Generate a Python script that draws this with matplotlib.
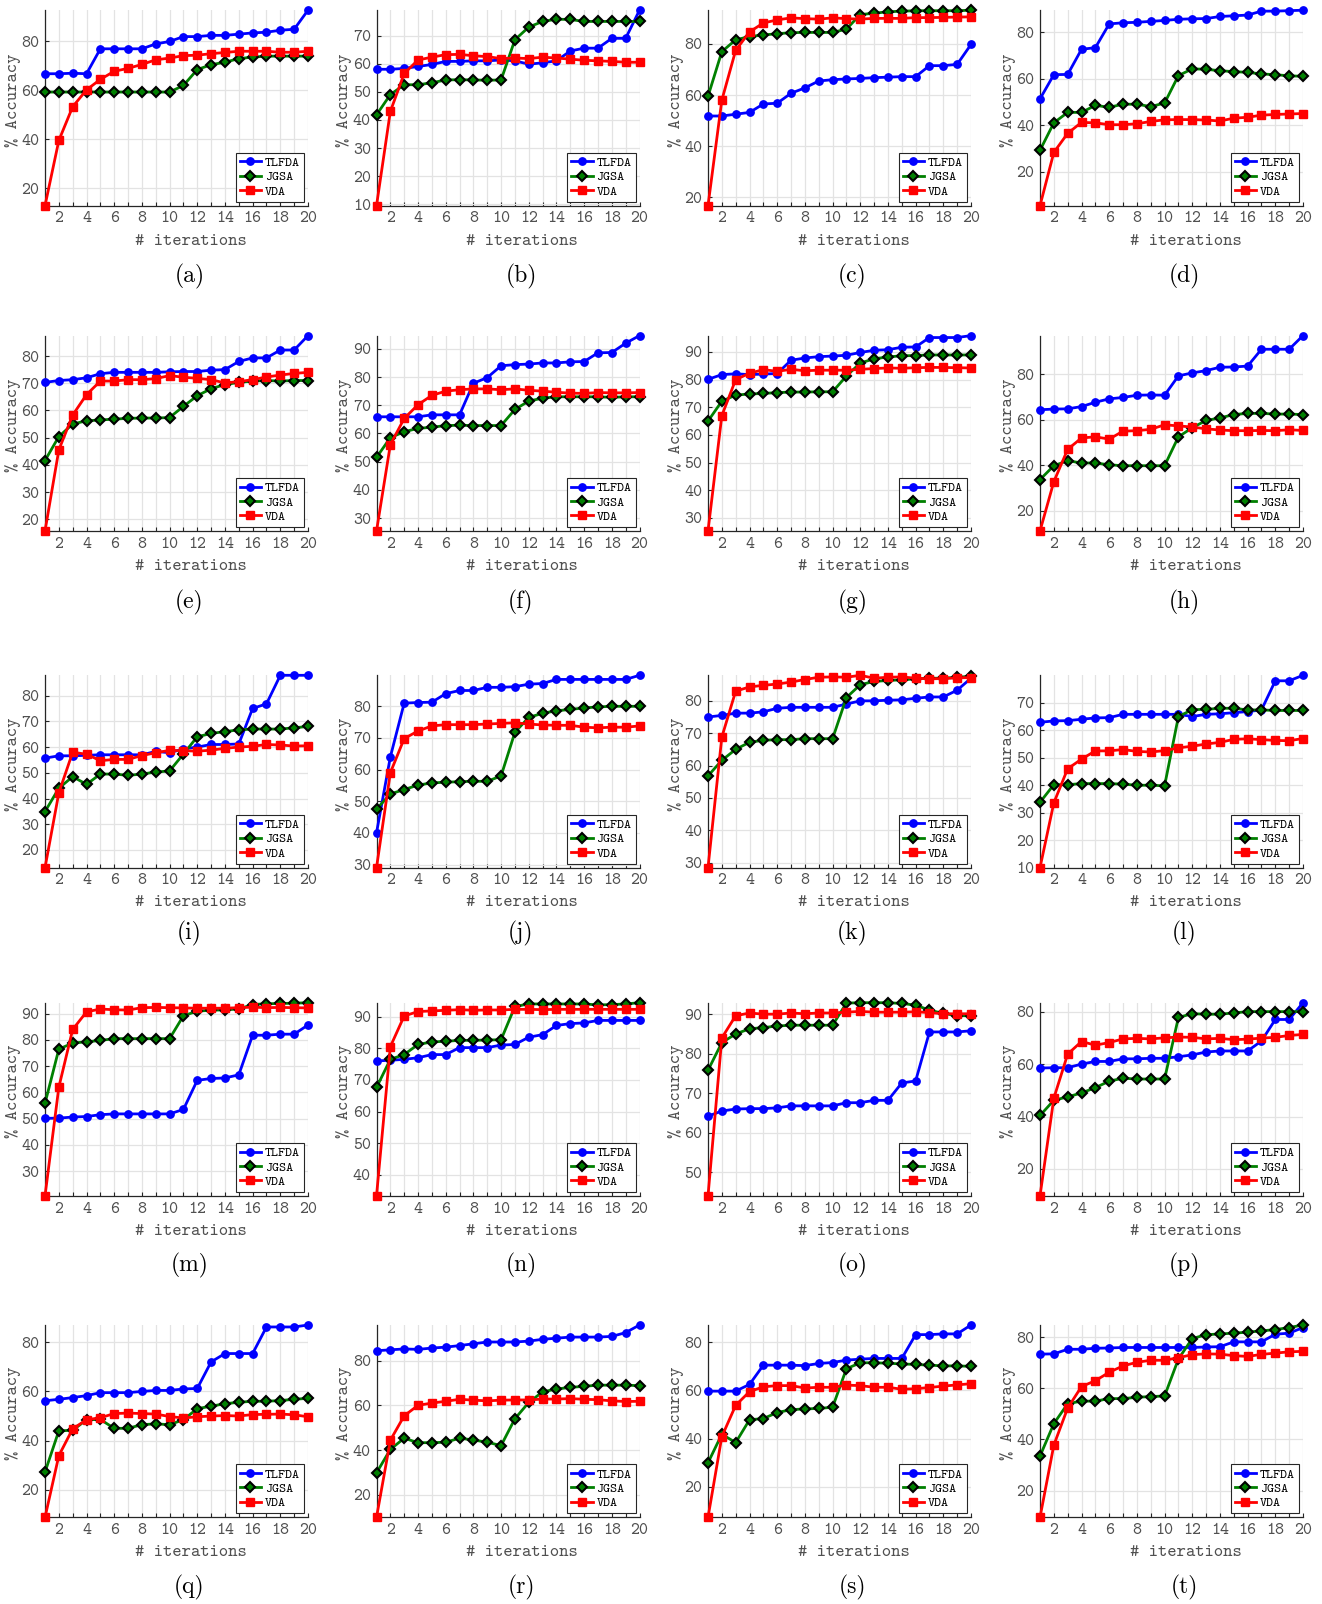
import matplotlib
matplotlib.use("Agg")
import matplotlib.pyplot as plt
from matplotlib.ticker import FixedLocator

plt.rcParams["font.family"] = ["cmtt10", "Liberation Mono"]
plt.rcParams["axes.unicode_minus"] = False

iterations = list(range(1, 21))
panel_labels = ["(a)", "(b)", "(c)", "(d)", "(e)", "(f)", "(g)", "(h)", "(i)", "(j)",
                "(k)", "(l)", "(m)", "(n)", "(o)", "(p)", "(q)", "(r)", "(s)", "(t)"]
series_names = ["TLFDA", "JGSA", "VDA"]

tlfda_a = [66.8, 66.8, 67, 66.8, 77, 77, 77, 77, 79, 80, 82, 82, 82.5, 82.5, 83, 83.5, 83.8, 84.6, 85, 92.8]
jgsa_a = [59.3, 59.3, 59.3, 59.3, 59.3, 59.3, 59.3, 59.3, 59.3, 59.3, 62, 68.5, 70.5, 71.5, 73, 73.6, 74, 74, 74, 74]
vda_a = [12.8, 39.5, 53.3, 60.2, 64.5, 67.8, 69, 70.6, 72.5, 73.2, 74.2, 74.4, 75, 75.5, 76, 76, 76, 75.6, 75.6, 76]

tlfda_b = [58, 58, 58.3, 59, 59.7, 60.8, 60.8, 61, 61, 61.3, 61, 59.8, 60.3, 61, 64.5, 65.5, 65.5, 69, 69, 79]
jgsa_b = [41.8, 49, 52.5, 52.5, 53.2, 54.2, 54.3, 54.2, 54.1, 54.2, 68.5, 73, 75, 75.8, 75.7, 75, 75, 75, 75, 75]
vda_b = [9.5, 43, 56.5, 61.3, 62.3, 63.2, 63.3, 62.8, 62.5, 61.8, 62, 61.8, 62.3, 62, 61.6, 61.2, 61, 60.8, 60.5, 60.5]

tlfda_c = [51.8, 51.8, 52.5, 53.2, 56.5, 56.8, 60.7, 62.8, 65.5, 66, 66.3, 66.5, 66.8, 67, 67.2, 67.2, 71.5, 71.5, 72, 79.8]
jgsa_c = [59.5, 77, 81.6, 82.9, 83.5, 84, 84.4, 84.5, 84.5, 84.5, 85.8, 91.5, 92, 92.6, 92.8, 93, 93, 93, 93, 93.2]
vda_c = [16.7, 58, 77.5, 84.7, 88.2, 89.4, 90.2, 89.9, 89.7, 90.2, 89.9, 89.7, 90, 90, 90, 90.3, 90.3, 90.4, 90.5, 90.6]

tlfda_d = [51.3, 61.7, 61.8, 72.6, 73.3, 83.5, 84, 84.2, 84.6, 85, 85.5, 85.7, 85.8, 86.7, 87, 87.3, 89, 89, 89.2, 89.4]
jgsa_d = [29.2, 41, 45.5, 45.5, 48.5, 47.7, 49, 49, 48, 49.5, 61.3, 64.2, 64, 63.4, 63, 62.7, 62, 61.7, 61.2, 61]
vda_d = [5.4, 28.3, 36.5, 41.2, 41, 40.2, 40.2, 40.6, 41.6, 42.3, 42.4, 42.4, 42.2, 41.8, 43, 43.4, 44.3, 44.6, 44.8, 45]

tlfda_e = [70.3, 71, 71.3, 72, 73.5, 74, 74, 74, 74, 74.2, 74.3, 74.3, 74.8, 75, 78, 79.3, 79.3, 82.2, 82.2, 87.5]
jgsa_e = [41.6, 50.4, 55, 56.2, 56.5, 56.8, 57.1, 57.2, 57.2, 57.4, 61.5, 65.4, 68, 69.5, 70.3, 70.8, 71, 70.8, 71, 71]
vda_e = [15.7, 45.5, 58.3, 65.8, 70.8, 70.8, 71.3, 71.3, 71.7, 72.8, 72.2, 71.8, 71.3, 70.1, 70.6, 71.3, 72.3, 73, 73.6, 74]

tlfda_f = [65.9, 65.9, 65.9, 65.9, 66.6, 66.6, 66.6, 77.8, 79.8, 84, 84.4, 84.6, 85, 85, 85.4, 85.5, 88.6, 88.7, 92, 94.7]
jgsa_f = [51.5, 58.5, 60.6, 61.8, 62.2, 62.8, 62.9, 62.8, 62.8, 62.8, 68.5, 71.5, 72.5, 73, 73, 73, 73, 72.8, 73, 73]
vda_f = [25.4, 56, 65.3, 70.2, 73.5, 75, 75.5, 75.8, 75.8, 75.5, 75.8, 75.3, 75, 74.6, 74.3, 74.2, 74.5, 74.4, 74.4, 74.5]

tlfda_g = [80.1, 81.8, 82.1, 81.8, 82, 82.2, 87, 87.8, 88.3, 88.5, 88.8, 89.8, 90.6, 90.8, 91.7, 91.8, 95.2, 95.2, 95.2, 95.9]
jgsa_g = [65, 72.2, 74.4, 74.8, 75, 75.3, 75.5, 75.5, 75.6, 75.6, 81.3, 86, 87.5, 88.2, 88.6, 88.7, 88.9, 88.9, 88.9, 88.9]
vda_g = [25.3, 67, 80, 82.3, 83.6, 83, 83.7, 83.2, 83.4, 83.4, 83.4, 83.7, 84, 84.2, 84.1, 84.3, 84.4, 84.4, 84.3, 84.2]

tlfda_h = [64.4, 64.7, 64.8, 65.8, 67.7, 69.2, 69.8, 70.8, 70.9, 70.8, 79.3, 80.6, 81.6, 83.1, 83.2, 83.6, 91, 91, 91, 97]
jgsa_h = [33.7, 39.8, 42, 41, 41, 40.2, 39.8, 39.8, 39.8, 39.8, 52.5, 56.5, 59.7, 60.8, 62.3, 62.8, 62.8, 62.5, 62.5, 62.3]
vda_h = [11.1, 32.8, 47, 52, 52.5, 51.5, 55, 55.2, 55.8, 57.8, 57.3, 56.8, 56, 55.5, 55.2, 55.2, 55.3, 55.2, 55.6, 55.3]

tlfda_i = [55.7, 56.6, 56.6, 56.8, 57, 57, 57, 57, 58.3, 57.8, 59.3, 60, 61, 61, 61.2, 75, 76.8, 87.9, 87.9, 87.9]
jgsa_i = [34.9, 44, 48.5, 45.5, 49.5, 49.5, 49, 49.5, 50.3, 50.7, 57.3, 64, 65.3, 66, 66.7, 67, 67, 67, 67.5, 68]
vda_i = [13.1, 42.2, 58, 57.2, 54.7, 55.2, 55.2, 56.7, 57.8, 58.7, 58.6, 58.4, 58.8, 59.5, 60, 60.3, 61, 60.8, 60.4, 60.5]

tlfda_j = [40, 64, 81, 81.2, 81.3, 84, 85, 85, 86, 86, 86.2, 87, 87.2, 88.5, 88.5, 88.5, 88.5, 88.5, 88.5, 89.8]
jgsa_j = [47.5, 52.3, 53.7, 55.1, 55.8, 56, 56.2, 56.3, 56.3, 58, 71.8, 76.5, 77.8, 78.6, 79, 79.5, 79.8, 80, 80, 80]
vda_j = [29, 59, 69.8, 72.2, 73.8, 74.2, 74.2, 74.2, 74.4, 74.6, 74.8, 74.4, 74.1, 74, 74, 73.4, 73.2, 73.4, 73.4, 73.8]

tlfda_k = [75, 75.5, 76.2, 76.2, 76.6, 77.7, 78, 78, 78, 78, 79, 80, 80, 80.2, 80.3, 80.8, 81.2, 81.2, 83.3, 87]
jgsa_k = [56.8, 61.6, 65, 67.2, 67.8, 68, 68, 68.3, 68.3, 68.3, 81, 85, 86, 86.3, 86.5, 86.8, 87, 87, 87.3, 87.6]
vda_k = [28.4, 68.8, 83, 84.3, 84.8, 85.2, 85.8, 86.6, 87.3, 87.4, 87.3, 87.9, 87, 87.3, 87.4, 87, 86.8, 86.9, 87.1, 87.2]

tlfda_l = [62.9, 63.4, 63.5, 64, 64.5, 64.6, 65.8, 65.8, 65.8, 65.8, 65.8, 65, 65.8, 66, 66.4, 66.8, 67.4, 78, 78, 80]
jgsa_l = [33.8, 40.2, 40.2, 40.6, 40.6, 40.6, 40.4, 40, 40, 39.8, 65, 67.5, 67.6, 68, 68, 67.4, 67.4, 67.2, 67.2, 67.2]
vda_l = [10, 33.6, 46, 49.5, 52.5, 52.5, 53, 52.3, 52.1, 52.6, 53.6, 54.2, 55, 55.6, 56.7, 56.9, 56.6, 56.3, 56.2, 57]

tlfda_m = [50.1, 50.2, 50.6, 50.8, 51.5, 51.8, 51.8, 51.8, 51.8, 51.8, 53.5, 64.6, 65.3, 65.5, 66.7, 81.8, 81.8, 82.2, 82.2, 85.7]
jgsa_m = [55.8, 76.5, 78.8, 79.3, 79.8, 80.5, 80.5, 80.5, 80.5, 80.5, 89.2, 91, 91.3, 91.5, 91.8, 93.5, 93.8, 93.9, 94, 94.2]
vda_m = [20.5, 62, 84, 90.7, 91.8, 91.5, 91.4, 92.3, 92.4, 92.3, 92.2, 92.1, 92.1, 92.1, 92.3, 92.5, 92.3, 92.4, 92.3, 92.2]

tlfda_n = [76, 76.2, 76.5, 77, 78, 78, 80.2, 80.2, 80.2, 81, 81.2, 83.5, 84.3, 87.2, 87.8, 88, 88.8, 88.8, 88.8, 88.8]
jgsa_n = [67.6, 76.5, 78, 81.2, 82, 82.2, 82.5, 82.5, 82.6, 82.7, 93.2, 94, 94, 94, 94, 94, 93.7, 93.8, 94, 94.4]
vda_n = [33.3, 80.5, 90.2, 91.6, 91.8, 92, 92.2, 92, 92.1, 92.1, 92.3, 92.3, 92.2, 92.3, 92.3, 92.3, 92.3, 92.3, 92.3, 92.3]

tlfda_o = [64.2, 65.5, 66, 66.1, 66.1, 66.3, 66.8, 66.8, 66.8, 66.8, 67.6, 67.6, 68.2, 68.2, 72.6, 73.1, 85.5, 85.5, 85.5, 85.8]
jgsa_o = [75.8, 82.8, 85, 86.3, 86.6, 87, 87.2, 87.2, 87.2, 87.2, 92.8, 92.9, 92.9, 92.9, 92.7, 92.3, 91, 90.2, 89.6, 89.6]
vda_o = [44, 84, 89.6, 90.3, 90, 90, 90.3, 90.1, 90.3, 90.3, 90.5, 90.7, 90.5, 90.5, 90.5, 90.6, 90.4, 90.1, 90.1, 90.1]

tlfda_p = [58.5, 58.6, 58.6, 60, 61, 61, 62, 62, 62.2, 62.2, 62.8, 63.5, 64.6, 65, 65, 65, 68.8, 77, 77, 83.4]
jgsa_p = [40.4, 46.2, 47.5, 49, 51, 53.5, 54.6, 54.3, 54.3, 54.3, 77.8, 79.2, 79, 79, 79.5, 80, 80, 80, 80, 80]
vda_p = [9.7, 47, 63.8, 68.6, 67.2, 68.2, 69.6, 69.8, 69.6, 70, 70.3, 70.2, 69.6, 69.8, 69.3, 69.5, 69.9, 70.2, 70.9, 71.3]

tlfda_q = [56.2, 56.8, 57.5, 58.3, 59.5, 59.5, 59.5, 60, 60.4, 60.4, 61, 61.2, 72, 75.4, 75.4, 75.4, 86.2, 86.2, 86.2, 87]
jgsa_q = [27.2, 44, 44.2, 48.5, 48.6, 45, 45, 46.5, 46.8, 46.5, 48.5, 53, 54, 55, 55.6, 56, 56, 56.3, 56.8, 57.2]
vda_q = [8.8, 33.9, 44.8, 48.5, 49.3, 51, 51.2, 51, 50.8, 49.8, 49.2, 49.7, 50, 50.2, 50, 50.6, 50.7, 50.8, 50.5, 49.7]

tlfda_r = [84.4, 84.8, 85.2, 85, 85.6, 86, 86.7, 87.5, 88.3, 88.3, 88.3, 88.7, 89.5, 90, 90.5, 90.5, 90.5, 90.8, 92.5, 95.9]
jgsa_r = [29.8, 40.3, 45.3, 43.3, 43.3, 43.5, 45.3, 44.5, 43.5, 42, 54, 61.3, 66, 67.3, 68, 68.5, 69, 69, 69, 68.8]
vda_r = [9.9, 44.4, 55.3, 60, 61, 61.8, 62.7, 62.3, 62, 62.3, 62.4, 62.4, 62.8, 62.8, 63, 62.7, 62.5, 62, 61.7, 61.8]

tlfda_s = [59.7, 59.7, 59.7, 62.5, 70.5, 70.5, 70.5, 70.3, 71.2, 71.6, 72.6, 73, 73.3, 73.3, 73.3, 83.2, 83.2, 83.5, 83.5, 87.2]
jgsa_s = [29.9, 41.8, 38.3, 47.8, 48.3, 50.8, 52, 52.3, 52.5, 53, 69, 71.5, 71.5, 71.3, 71, 70.8, 70.5, 70.2, 70.2, 70]
vda_s = [7.2, 40.8, 53.8, 59.5, 61.5, 62, 62, 61, 61.3, 61.3, 62.2, 62, 61.3, 61.3, 60.5, 60.7, 61.2, 61.8, 62.3, 62.8]

tlfda_t = [73.4, 73.5, 75.3, 75.3, 75.7, 75.8, 76, 76, 76, 76, 76, 76, 76.2, 76.3, 78.2, 78.2, 78.2, 81.2, 81.6, 83.8]
jgsa_t = [33.5, 46.2, 54, 55, 55, 56, 56, 56.5, 56.8, 57, 71.5, 79.5, 81, 81.3, 81.6, 82, 82.5, 83, 83.8, 84.8]
vda_t = [9.5, 37.8, 52.3, 60.7, 63, 66.3, 68.8, 70.2, 71, 71, 72, 73.2, 73.5, 73.4, 72.8, 72.5, 73.3, 73.8, 74.3, 74.5]

yticks_a = [20, 40, 60, 80]
yticks_b = [10, 20, 30, 40, 50, 60, 70]
yticks_c = [20, 40, 60, 80]
yticks_d = [20, 40, 60, 80]
yticks_e = [20, 30, 40, 50, 60, 70, 80]
yticks_f = [30, 40, 50, 60, 70, 80, 90]
yticks_g = [30, 40, 50, 60, 70, 80, 90]
yticks_h = [20, 40, 60, 80]
yticks_i = [20, 30, 40, 50, 60, 70, 80]
yticks_j = [30, 40, 50, 60, 70, 80]
yticks_k = [30, 40, 50, 60, 70, 80]
yticks_l = [10, 20, 30, 40, 50, 60, 70]
yticks_m = [30, 40, 50, 60, 70, 80, 90]
yticks_n = [40, 50, 60, 70, 80, 90]
yticks_o = [50, 60, 70, 80, 90]
yticks_p = [20, 40, 60, 80]
yticks_q = [20, 40, 60, 80]
yticks_r = [20, 40, 60, 80]
yticks_s = [20, 40, 60, 80]
yticks_t = [20, 40, 60, 80]
xticks = [2, 4, 6, 8, 10, 12, 14, 16, 18, 20]

panels = [
    (tlfda_a, jgsa_a, vda_a, yticks_a), (tlfda_b, jgsa_b, vda_b, yticks_b),
    (tlfda_c, jgsa_c, vda_c, yticks_c), (tlfda_d, jgsa_d, vda_d, yticks_d),
    (tlfda_e, jgsa_e, vda_e, yticks_e), (tlfda_f, jgsa_f, vda_f, yticks_f),
    (tlfda_g, jgsa_g, vda_g, yticks_g), (tlfda_h, jgsa_h, vda_h, yticks_h),
    (tlfda_i, jgsa_i, vda_i, yticks_i), (tlfda_j, jgsa_j, vda_j, yticks_j),
    (tlfda_k, jgsa_k, vda_k, yticks_k), (tlfda_l, jgsa_l, vda_l, yticks_l),
    (tlfda_m, jgsa_m, vda_m, yticks_m), (tlfda_n, jgsa_n, vda_n, yticks_n),
    (tlfda_o, jgsa_o, vda_o, yticks_o), (tlfda_p, jgsa_p, vda_p, yticks_p),
    (tlfda_q, jgsa_q, vda_q, yticks_q), (tlfda_r, jgsa_r, vda_r, yticks_r),
    (tlfda_s, jgsa_s, vda_s, yticks_s), (tlfda_t, jgsa_t, vda_t, yticks_t),
]

W, H = 1322, 1604
fig = plt.figure(figsize=(W / 100, H / 100), dpi=100)

col_left = [45, 376.5, 708, 1040]
ax_w = 263
row_top = [10.2, 335.6, 675.3, 1002.7, 1325]
row_bot = [205.7, 531, 867.7, 1196, 1517.4]
cap_y = [276, 602, 933, 1265, 1587]

styles = [
    dict(color=(0, 0, 1), marker="o", markersize=5.3, markerfacecolor=(0, 0, 1),
         markeredgecolor=(0, 0, 1), markeredgewidth=1.0),
    dict(color=(0, 0.5, 0), marker="D", markersize=4.8, markerfacecolor=(0, 0.5, 0),
         markeredgecolor="k", markeredgewidth=1.5),
    dict(color=(1, 0, 0), marker="s", markersize=5.2, markerfacecolor=(1, 0, 0),
         markeredgecolor=(1, 0, 0), markeredgewidth=1.0),
]

tick_color = "#505050"
for idx, (t, j, v, yt) in enumerate(panels):
    r, c = divmod(idx, 4)
    left = col_left[c] / W
    bottom = 1 - row_bot[r] / H
    height = (row_bot[r] - row_top[r]) / H
    ax = fig.add_axes([left, bottom, ax_w / W, height])
    for vals, name, st in zip((t, j, v), series_names, styles):
        ax.plot(iterations, vals, label=name, linewidth=2.0, clip_on=False, zorder=3, **st)
    allv = t + j + v
    ax.set_xlim(1, 20)
    ax.set_ylim(min(allv), max(allv))
    ax.xaxis.set_major_locator(FixedLocator(xticks))
    ax.xaxis.set_minor_locator(FixedLocator([k for k in iterations if k not in xticks]))
    ax.yaxis.set_major_locator(FixedLocator(yt))
    ax.grid(True, which="both", axis="x", color="#e3e3e3", linewidth=0.9, zorder=0)
    ax.grid(True, which="major", axis="y", color="#e3e3e3", linewidth=0.9, zorder=0)
    ax.set_axisbelow(True)
    for s in ("top", "right"):
        ax.spines[s].set_visible(False)
    for s in ("left", "bottom"):
        ax.spines[s].set_color("#262626")
        ax.spines[s].set_linewidth(0.9)
    ax.tick_params(which="both", direction="in", length=3, width=0.8, colors="#262626",
                   labelcolor=tick_color, labelsize=12.3)
    ax.tick_params(axis="x", pad=4)
    ax.tick_params(axis="y", pad=4)
    ax.set_xlabel("# iterations", fontsize=12.8, color=tick_color)
    ax.set_ylabel("% Accuracy", fontsize=12.8, color=tick_color)
    ax.xaxis.set_label_coords(0.553, -0.143)
    ax.yaxis.set_label_coords(-0.092, 0.54)
    leg = ax.legend(loc="lower right", prop={"size": 9.6}, numpoints=1,
                    handlelength=1.6, handletextpad=0.3, borderpad=0.3, labelspacing=0.15,
                    borderaxespad=0.3, fancybox=False, framealpha=1, edgecolor="#262626")
    leg.get_frame().set_linewidth(0.8)
    fig.text((col_left[c] + ax_w / 2 + 13) / W, 1 - cap_y[r] / H, panel_labels[idx],
             fontfamily="cmr10", fontsize=17, ha="center", va="center")

fig.savefig("out.png", dpi=100)
